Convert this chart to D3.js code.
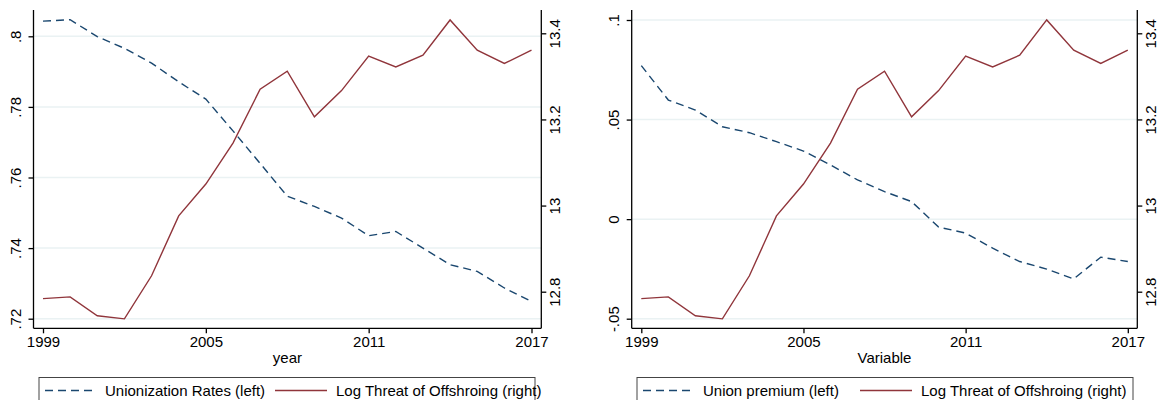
<!DOCTYPE html>
<html>
<head>
<meta charset="utf-8">
<script src="https://cdn.jsdelivr.net/npm/d3@7"></script>
<style>
  html, body { margin: 0; padding: 0; background: #fff; }
  svg { display: block; }
  text { font-family: "Liberation Sans", Arial, Helvetica, sans-serif; fill: #000; }
</style>
</head>
<body>
<svg id="chart" width="1161" height="400"></svg>
<script>
// Survey years
const years = [1999, 2000, 2001, 2002, 2003, 2004, 2005, 2006, 2007, 2008,
               2009, 2010, 2011, 2012, 2013, 2014, 2015, 2016, 2017];

// Left-axis series
const unionizationRates = [0.8043, 0.8047, 0.7999, 0.7966, 0.7924, 0.7871, 0.7822, 0.7732, 0.7640, 0.7547,
                           0.7518, 0.7485, 0.7435, 0.7447, 0.7400, 0.7353, 0.7334, 0.7287, 0.7249];
const unionPremium = [0.0771, 0.0598, 0.0548, 0.0464, 0.0434, 0.0389, 0.0342, 0.0272, 0.0197, 0.0138,
                      0.0088, -0.0040, -0.0070, -0.0146, -0.0213, -0.0251, -0.0300, -0.0191, -0.0213];

// Right-axis series (shared by both panels)
const logOffshoringThreat = [12.784, 12.788, 12.744, 12.737, 12.837, 12.976, 13.050, 13.145, 13.270, 13.312,
                             13.206, 13.267, 13.347, 13.322, 13.349, 13.431, 13.361, 13.330, 13.361];

// Tick values
const yearTicks = [1999, 2005, 2011, 2017];
const unionRateTicks = [0.72, 0.74, 0.76, 0.78, 0.8];
const premiumTicks = [-0.05, 0, 0.05, 0.1];
const threatTicks = [12.8, 13, 13.2, 13.4];

const BLUE = "#1a476f";
const RED = "#90353b";
const GRID = "#eaf2f3";
const FONT = 15;

// Stata-style number labels: ".8", "-.05", "13.2"
const fmt = v => {
  let s = String(+v.toFixed(4));
  return s.replace(/^(-?)0\./, "$1.");
};

const svg = d3.select("#chart");

function drawPanel(cfg) {
  const g = svg.append("g");
  const x = d3.scaleLinear().domain([1999, 2017]).range([cfg.x0, cfg.x1]);
  const yL = d3.scaleLinear().domain(cfg.leftDomain).range(cfg.leftRange);
  const yR = d3.scaleLinear().domain([12.8, 13.4]).range([291.7, 33.3]);
  const top = 10, bottom = 328.3;

  // gridlines at left-axis ticks
  g.append("g").selectAll("line").data(cfg.leftTicks).join("line")
    .attr("x1", cfg.axL).attr("x2", cfg.axR)
    .attr("y1", d => yL(d)).attr("y2", d => yL(d))
    .attr("stroke", GRID).attr("stroke-width", 1.5);

  // lines
  const lineL = d3.line().x((d, i) => x(years[i])).y(d => yL(d));
  const lineR = d3.line().x((d, i) => x(years[i])).y(d => yR(d));
  g.append("path").datum(cfg.leftSeries).attr("d", lineL)
    .attr("fill", "none").attr("stroke", BLUE).attr("stroke-width", 1.4)
    .attr("stroke-dasharray", "8,5");
  g.append("path").datum(logOffshoringThreat).attr("d", lineR)
    .attr("fill", "none").attr("stroke", RED).attr("stroke-width", 1.4);

  // left axis
  const axisL = g.append("g").attr("transform", `translate(${cfg.axL},0)`)
    .call(d3.axisLeft(yL).tickValues(cfg.leftTicks).tickSize(5).tickFormat(fmt));
  axisL.select(".domain").remove();
  axisL.append("line").attr("y1", top).attr("y2", bottom).attr("stroke", "#000").attr("stroke-width", 1.3);
  axisL.selectAll(".tick line").attr("stroke", "#000").attr("stroke-width", 1.3);
  axisL.selectAll(".tick text")
    .attr("x", null).attr("dy", null)
    .attr("transform", "translate(-13,0) rotate(-90)")
    .attr("text-anchor", "middle").attr("font-size", FONT);

  // right axis
  const axisR = g.append("g").attr("transform", `translate(${cfg.axR},0)`)
    .call(d3.axisRight(yR).tickValues(threatTicks).tickSize(5).tickFormat(fmt));
  axisR.select(".domain").remove();
  axisR.append("line").attr("y1", top).attr("y2", bottom).attr("stroke", "#000").attr("stroke-width", 1.3);
  axisR.selectAll(".tick line").attr("stroke", "#000").attr("stroke-width", 1.3);
  axisR.selectAll(".tick text")
    .attr("x", null).attr("dy", null)
    .attr("transform", "translate(19,0) rotate(-90)")
    .attr("text-anchor", "middle").attr("font-size", FONT);

  // bottom axis
  const axisB = g.append("g").attr("transform", `translate(0,${bottom})`)
    .call(d3.axisBottom(x).tickValues(yearTicks).tickSize(5).tickFormat(d3.format("d")));
  axisB.select(".domain").remove();
  axisB.append("line").attr("x1", cfg.axL).attr("x2", cfg.axR).attr("stroke", "#000").attr("stroke-width", 1.3);
  axisB.selectAll(".tick line").attr("stroke", "#000").attr("stroke-width", 1.3);
  axisB.selectAll(".tick text").attr("y", 19).attr("dy", null).attr("font-size", FONT);

  // axis title
  g.append("text").attr("x", (cfg.axL + cfg.axR) / 2).attr("y", 363)
    .attr("text-anchor", "middle").attr("font-size", FONT).text(cfg.xTitle);

  // legend
  const lg = g.append("g").attr("transform", `translate(${cfg.legendX},377.5)`);
  lg.append("rect").attr("x", 0).attr("y", 0).attr("width", 496).attr("height", 40)
    .attr("fill", "#fff").attr("stroke", "#444").attr("stroke-width", 1);
  lg.append("line").attr("x1", 6).attr("x2", 54).attr("y1", 13).attr("y2", 13)
    .attr("stroke", BLUE).attr("stroke-width", 1.4).attr("stroke-dasharray", "8,5");
  lg.append("text").attr("x", 66).attr("y", 18.5).attr("font-size", FONT).text(cfg.leftLabel);
  lg.append("line").attr("x1", cfg.key2).attr("x2", cfg.key2 + 52).attr("y1", 13).attr("y2", 13)
    .attr("stroke", RED).attr("stroke-width", 1.4);
  lg.append("text").attr("x", cfg.key2 + 61).attr("y", 18.5).attr("font-size", FONT)
    .text("Log Threat of Offshroing (right)");
}

drawPanel({
  x0: 43, x1: 531.5, axL: 33.5, axR: 541.3,
  leftDomain: [0.72, 0.8], leftRange: [318.7, 36.3],
  leftTicks: unionRateTicks, leftSeries: unionizationRates,
  xTitle: "year", legendX: 39, key2: 236,
  leftLabel: "Unionization Rates (left)"
});

drawPanel({
  x0: 641.3, x1: 1127.8, axL: 631.7, axR: 1137.3,
  leftDomain: [-0.05, 0.1], leftRange: [318.7, 20],
  leftTicks: premiumTicks, leftSeries: unionPremium,
  xTitle: "Variable", legendX: 637, key2: 223,
  leftLabel: "Union premium (left)"
});
</script>
</body>
</html>
